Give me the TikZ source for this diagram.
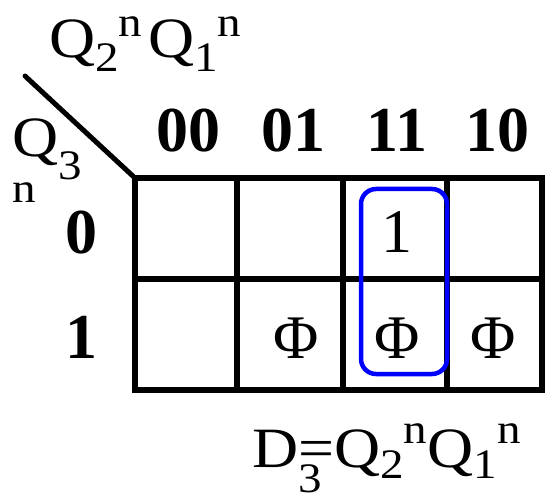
\documentclass[tikz,border=0pt]{standalone}
\usepackage{fontspec}
\setmainfont{Liberation Serif}
\newfontfamily\widefont[FakeStretch=1.12]{Liberation Serif}
\usetikzlibrary{positioning}

\newcommand{\loidx}[2][-12]{\raisebox{#1pt}{\fontsize{42}{42}\selectfont #2}}
\newcommand{\hiidx}[2][22]{\raisebox{#1pt}{\fontsize{42}{42}\selectfont #2}}

\begin{document}
\begin{tikzpicture}[x=1pt, y=-1pt,
    grid/.style={line width=6pt},
    lbl/.style={inner sep=0pt, anchor=base, font=\fontsize{64}{64}\selectfont\bfseries},
    val/.style={inner sep=0pt, anchor=base, font=\fontsize{62}{62}\selectfont},
    var/.style={inner sep=0pt, anchor=base west, font=\widefont\fontsize{57}{60}\selectfont},
    loop/.style={draw=blue, line width=4.5pt, rounded corners=15pt}
]
\useasboundingbox (0,0) rectangle (545,494);

% map grid
\draw[grid] (135,178) rectangle (542,390);
\draw[grid] (135,279) -- (542,279);
\foreach \x in {237,343,447}
    \draw[grid] (\x,178) -- (\x,390);

% corner with variable names
\coordinate (tail) at (25,76);
\coordinate (corner) at (135,178);
\draw[line width=5pt, line cap=round] (tail) -- (corner);
\node[var] (top) at (49,58) {Q\loidx[-14]{2}\hiidx[21]{n}\hspace{6pt}Q\loidx[-14]{1}\hiidx[21]{n}};
\node[var] (left) at (12,157) {Q\loidx[-23]{3}};
\node[var, font=\widefont\fontsize{42}{42}\selectfont] (leftn) at (12,202) {n};

% column and row labels
\node[lbl] (k00) at (188,152) {00};
\node[lbl] (k01) at (293,152) {01};
\node[lbl] (k11) at (397,152) {11};
\node[lbl] (k10) at (497,152) {10};
\node[lbl] (r0) at (81,253) {0};
\node[lbl] (r1) at (81,358) {1};

% cell values
\node[val] (m3) at (397,252) {1};
\node[val] (m5) at (296,358) {Φ};
\node[val] (m7) at (397,358) {Φ};
\node[val] (m6) at (493,358) {Φ};

% group
\draw[loop] (361,189) rectangle (447,374);

% result
\node[var] (res) at (252,467) {D\rlap{\loidx[-25]{3}}=Q\loidx[-11]{2}\hiidx[24]{n}Q\loidx[-11]{1}\hiidx[24]{n}};
\end{tikzpicture}
\end{document}
